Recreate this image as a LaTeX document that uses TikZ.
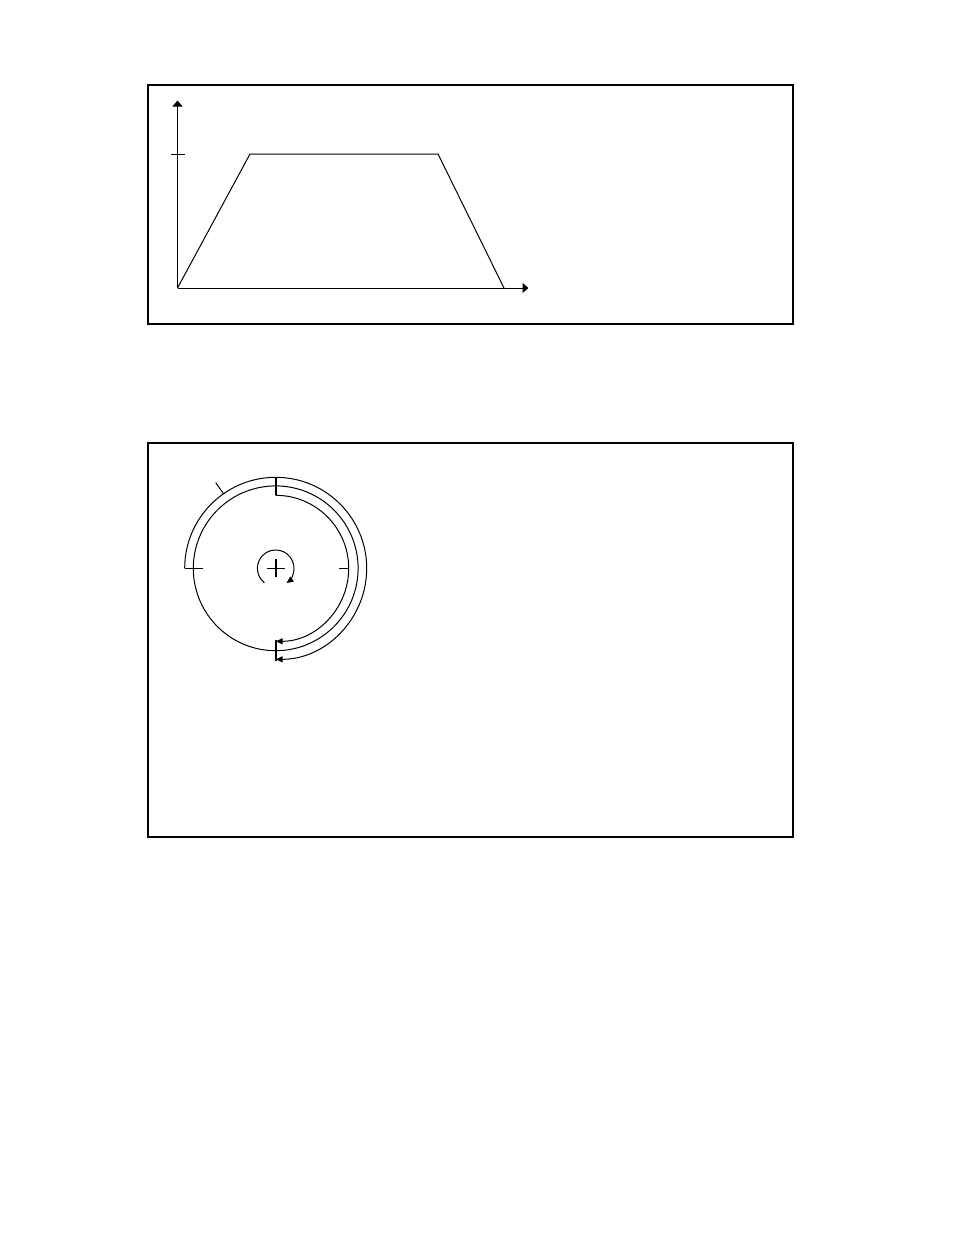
\documentclass[tikz,border=0pt]{standalone}
\usetikzlibrary{arrows.meta}
\tikzset{
  frame/.style={draw=black, line width=1.1pt},
  thin line/.style={draw=black, line width=1pt},
  heavy/.style={draw=black, line width=1.8pt},
  bigtip/.style={-{Triangle[length=6pt,width=10pt]}},
  smalltip/.style={-{Triangle[length=7pt,width=6pt]}}
}
\begin{document}
\begin{tikzpicture}[x=1pt,y=1pt]
\useasboundingbox (0,0) rectangle (954,-1235);
% ---------- top panel ----------
\draw[frame] (148,-85) rectangle (793,-324);
\coordinate (O) at (177.5,-288);
\coordinate (Ytop) at (177.5,-100.5);
\coordinate (Xend) at (528.5,-288);
\coordinate (P1) at (250,-154);
\coordinate (P2) at (438,-154);
\coordinate (P3) at (504,-288);
\coordinate (T1) at (171,-154);
\coordinate (T2) at (184.5,-154);
\draw[thin line, bigtip] (O) -- (Ytop);
\draw[thin line, bigtip] (O) -- (Xend);
\draw[thin line] (T1) -- (T2);
\draw[thin line, line join=miter] (O) -- (P1) -- (P2) -- (P3);
% ---------- bottom panel ----------
\draw[frame] (148,-443) rectangle (793,-837);
\coordinate (C) at (275.7,-568.3);
\draw[thin line] (C) circle[radius=82.4];
% inner arrow arc
\draw[thin line, smalltip] ([shift={(90:73)}]C) arc[start angle=90, end angle=-90, radius=73];
% outer arrow arc
\draw[thin line, smalltip] ([shift={(180:91)}]C) arc[start angle=180, end angle=-90, radius=91];
% ticks
\draw[heavy] ([shift={(90:73)}]C) -- ([shift={(90:91)}]C);
\draw[heavy] ([shift={(-90:72)}]C) -- ([shift={(-90:93)}]C);
\draw[thin line] ([shift={(180:91)}]C) -- ([shift={(180:72.5)}]C);
\draw[thin line] ([shift={(0:63.5)}]C) -- ([shift={(0:73)}]C);
\draw[thin line] ([shift={(125:91)}]C) -- ([shift={(125:104.5)}]C);
% centre cross
\draw[heavy, line width=1.6pt] ([shift={(-9,0)}]C) -- ([shift={(9,0)}]C);
\draw[heavy, line width=1.6pt] ([shift={(0,-9)}]C) -- ([shift={(0,9)}]C);
% rotation arrow
\draw[thin line, smalltip] ([shift={(232:18.3)}]C) arc[start angle=232, end angle=-54, radius=18.3];
\end{tikzpicture}
\end{document}
